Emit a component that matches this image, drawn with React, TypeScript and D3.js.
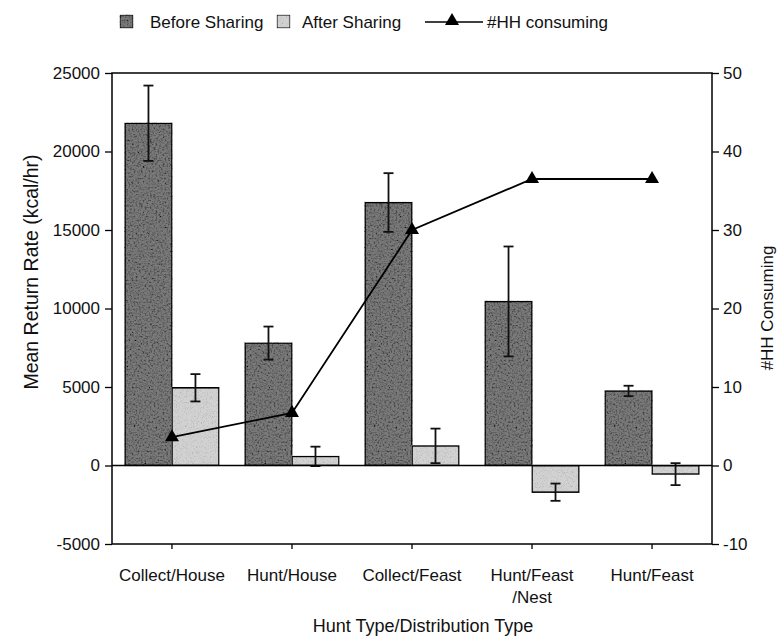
import React, { useEffect, useRef } from "react";
import * as d3 from "d3";

const categories = ["Collect/House", "Hunt/House", "Collect/Feast", "Hunt/Feast\n/Nest", "Hunt/Feast"];
const beforeSharing = [21800, 7800, 16750, 10450, 4750];
const beforeError = [2400, 1050, 1870, 3500, 330];
const afterSharing = [4950, 580, 1250, -1700, -550];
const afterError = [870, 620, 1100, 550, 700];
const hhConsuming = [3.6, 6.7, 30, 36.5, 36.5];
const leftTicks = [-5000, 0, 5000, 10000, 15000, 20000, 25000];
const rightTicks = [-10, 0, 10, 20, 30, 40, 50];

const W = 781;
const H = 642;
const FONT = "'Liberation Sans', Arial, Helvetica, sans-serif";

function App() {
  const ref = useRef<SVGSVGElement | null>(null);

  useEffect(() => {
    const svg = d3.select(ref.current);
    svg.selectAll("*").remove();

    const left = 112, right = 712, top = 73, bottom = 544;

    const x = d3.scaleBand<string>().domain(categories).range([left, right])
      .paddingInner(0.217).paddingOuter(0.108);
    const sub = d3.scaleBand<string>().domain(["before", "after"]).range([0, x.bandwidth()]);
    const y = d3.scaleLinear().domain([-5000, 25000]).range([bottom, top]);
    const y2 = d3.scaleLinear().domain([-10, 50]).range([bottom, top]);

    // speckle texture for the bars
    const defs = svg.append("defs");
    const mkFilter = (id: string, k: number, o: number, seed: number, freq: number) => {
      const f = defs.append("filter").attr("id", id)
        .attr("x", "-10%").attr("y", "-10%").attr("width", "120%").attr("height", "120%");
      f.append("feTurbulence").attr("type", "fractalNoise").attr("baseFrequency", freq)
        .attr("numOctaves", 3).attr("seed", seed).attr("result", "noise");
      const c = (k / 3).toFixed(3);
      f.append("feColorMatrix").attr("in", "noise").attr("type", "matrix")
        .attr("values", `${c} ${c} ${c} 0 ${o}  ${c} ${c} ${c} 0 ${o}  ${c} ${c} ${c} 0 ${o}  0 0 0 0 1`)
        .attr("result", "grey");
      f.append("feBlend").attr("in", "SourceGraphic").attr("in2", "grey").attr("mode", "multiply").attr("result", "mix");
      f.append("feComposite").attr("in", "mix").attr("in2", "SourceGraphic").attr("operator", "in");
    };
    mkFilter("darkNoise", 3.2, -0.75, 4, 0.55);
    mkFilter("lightNoise", 1.4, 0.3, 9, 1.2);

    const g = svg.append("g");

    // bars
    const groups = g.selectAll(".grp").data(categories).enter().append("g")
      .attr("transform", (d) => `translate(${x(d)},0)`);

    groups.append("rect")
      .attr("x", sub("before")!)
      .attr("width", sub.bandwidth())
      .attr("y", (d, i) => y(Math.max(0, beforeSharing[i])))
      .attr("height", (d, i) => Math.abs(y(beforeSharing[i]) - y(0)))
      .attr("fill", "#7a7a7a").attr("stroke", "#000").attr("stroke-width", 1.6)
      .attr("filter", "url(#darkNoise)");

    groups.append("rect")
      .attr("x", sub("after")!)
      .attr("width", sub.bandwidth())
      .attr("y", (d, i) => y(Math.max(0, afterSharing[i])))
      .attr("height", (d, i) => Math.abs(y(afterSharing[i]) - y(0)))
      .attr("fill", "#d2d2d2").attr("stroke", "#000").attr("stroke-width", 1.6)
      .attr("filter", "url(#lightNoise)");

    // error bars
    const errBar = (vals: number[], errs: number[], key: string) => {
      const cx = sub(key)! + sub.bandwidth() / 2;
      const eb = groups.append("g").attr("stroke", "#111").attr("stroke-width", 1.8);
      eb.append("line").attr("x1", cx).attr("x2", cx)
        .attr("y1", (d, i) => y(vals[i] + errs[i])).attr("y2", (d, i) => y(vals[i] - errs[i]));
      eb.append("line").attr("x1", cx - 5).attr("x2", cx + 5)
        .attr("y1", (d, i) => y(vals[i] + errs[i])).attr("y2", (d, i) => y(vals[i] + errs[i]));
      eb.append("line").attr("x1", cx - 5).attr("x2", cx + 5)
        .attr("y1", (d, i) => y(vals[i] - errs[i])).attr("y2", (d, i) => y(vals[i] - errs[i]));
    };
    errBar(beforeSharing, beforeError, "before");
    errBar(afterSharing, afterError, "after");

    // frame and zero line
    g.append("rect").attr("x", left).attr("y", top).attr("width", right - left).attr("height", bottom - top)
      .attr("fill", "none").attr("stroke", "#000").attr("stroke-width", 1.5);
    g.append("line").attr("x1", left).attr("x2", right).attr("y1", y(0)).attr("y2", y(0))
      .attr("stroke", "#000").attr("stroke-width", 1.5);

    // axes
    const axL = g.append("g").attr("transform", `translate(${left},0)`)
      .call(d3.axisLeft(y).tickValues(leftTicks).tickSize(7).tickSizeOuter(0).tickPadding(5).tickFormat((d) => String(d)));
    const axR = g.append("g").attr("transform", `translate(${right},0)`)
      .call(d3.axisRight(y2).tickValues(rightTicks).tickSize(7).tickSizeOuter(0).tickPadding(4).tickFormat((d) => String(d)));
    const axB = g.append("g").attr("transform", `translate(0,${bottom})`)
      .call(d3.axisBottom(x).tickSize(5).tickSizeOuter(0).tickFormat(() => ""));
    [axL, axR, axB].forEach((a) => {
      a.select(".domain").remove();
      a.selectAll("line").attr("stroke", "#000").attr("stroke-width", 1.3);
      a.selectAll("text").attr("font-family", FONT).attr("font-size", 17).attr("fill", "#111");
    });

    // category labels
    const lab = g.selectAll(".cat").data(categories).enter().append("text")
      .attr("x", (d) => x(d)! + x.bandwidth() / 2).attr("y", 581)
      .attr("text-anchor", "middle").attr("font-family", FONT).attr("font-size", 17).attr("fill", "#111");
    lab.selectAll("tspan").data((d) => d.split("\n")).enter().append("tspan")
      .attr("x", function () { return (this.parentNode as SVGTextElement).getAttribute("x"); })
      .attr("dy", (d, i) => (i === 0 ? 0 : 22)).text((d) => d);

    // #HH consuming line
    const cx = (i: number) => x(categories[i])! + x.bandwidth() / 2;
    g.append("path").datum(hhConsuming)
      .attr("d", d3.line<number>().x((d, i) => cx(i)).y((d) => y2(d)))
      .attr("fill", "none").attr("stroke", "#000").attr("stroke-width", 1.8);
    const tri = d3.symbol().type(d3.symbolTriangle).size(85);
    g.selectAll(".mk").data(hhConsuming).enter().append("path")
      .attr("d", tri()!).attr("transform", (d, i) => `translate(${cx(i)},${y2(d)})`).attr("fill", "#000");

    // axis titles
    const title = (t: string, tx: number, ty: number, rot: number, size: number) =>
      svg.append("text").attr("transform", `translate(${tx},${ty}) rotate(${rot})`)
        .attr("text-anchor", "middle").attr("dominant-baseline", "central")
        .attr("font-family", FONT).attr("font-size", size).attr("fill", "#111").text(t);
    title("Mean Return Rate (kcal/hr)", 31, 272, -90, 19.5);
    title("#HH Consuming", 767, 308, -90, 17);
    title("Hunt Type/Distribution Type", 423, 626, 0, 18);

    // legend
    const lg = svg.append("g").attr("font-family", FONT).attr("font-size", 17).attr("fill", "#111");
    lg.append("rect").attr("x", 120).attr("y", 15).attr("width", 13).attr("height", 13)
      .attr("fill", "#7a7a7a").attr("stroke", "#000").attr("filter", "url(#darkNoise)");
    lg.append("text").attr("x", 150).attr("y", 28).text("Before Sharing");
    lg.append("rect").attr("x", 277).attr("y", 15).attr("width", 13).attr("height", 13)
      .attr("fill", "#d2d2d2").attr("stroke", "#000").attr("filter", "url(#lightNoise)");
    lg.append("text").attr("x", 302).attr("y", 28).text("After Sharing");
    lg.append("line").attr("x1", 425).attr("x2", 483).attr("y1", 22).attr("y2", 22)
      .attr("stroke", "#000").attr("stroke-width", 1.5);
    lg.append("path").attr("d", tri()!).attr("transform", "translate(452,21)").attr("fill", "#000");
    lg.append("text").attr("x", 487).attr("y", 28).text("#HH consuming");
  }, []);

  return (
    <svg ref={ref} width={W} height={H}
      style={{ position: "absolute", left: 0, top: 0, background: "#fff", display: "block" }} />
  );
}

export default App;
